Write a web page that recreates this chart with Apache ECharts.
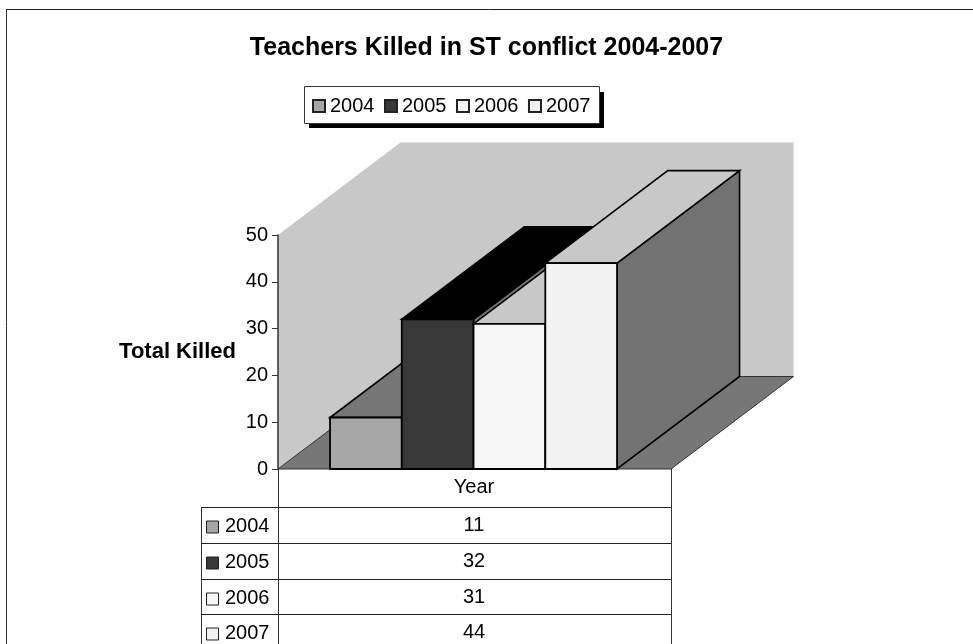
<!DOCTYPE html>
<html>
<head>
<meta charset="utf-8">
<title>Teachers Killed in ST conflict 2004-2007</title>
<script src="https://cdn.jsdelivr.net/npm/echarts@6/dist/echarts.min.js"></script>
<style>
  html, body { margin: 0; padding: 0; background: #fff; }
  #chart { width: 973px; height: 644px; }
</style>
</head>
<body>
<div id="chart"></div>
<script>
const years = ["2004", "2005", "2006", "2007"];
const killed = [11, 32, 31, 44];
const frontColors = ["#a6a6a6", "#383838", "#f7f7f7", "#f2f2f2"];
const topColors = ["#777777", "#000000", "#c8c8c8", "#c8c8c8"];
const sideColor = "#727272";
const wallColor = "#c8c8c8";
const floorColor = "#777777";

// oblique depth of the 3D box, in pixels
const depthX = 122.5;
const depthY = -92.5;
const font = "'Liberation Sans', Arial, sans-serif";

const chart = echarts.init(document.getElementById("chart"));

const shift = (p) => [p[0] + depthX, p[1] + depthY];
const poly = (points, fill, stroke, lineWidth) => ({
  type: "polygon",
  shape: { points },
  style: { fill, stroke: stroke || "none", lineWidth: lineWidth || 0 },
});

const renderWalls = (params, api) => {
  const a = api.coord([-0.725, 0]);
  const b = api.coord([4.752, 0]);
  const c = api.coord([-0.725, 50]);
  const d = api.coord([4.752, 50]);
  return {
    type: "group",
    children: [
      poly([a, c, shift(c), shift(d), shift(b), shift(a)], wallColor),
      poly([a, b, shift(b), shift(a)], floorColor, "#333", 1),
    ],
  };
};

const renderBox = (params, api) => {
  const i = api.value(0);
  const v = api.value(1);
  const bl = api.coord([i, 0]);
  const br = api.coord([i + 1, 0]);
  const tl = api.coord([i, v]);
  const tr = api.coord([i + 1, v]);
  return {
    type: "group",
    children: [
      poly([br, tr, shift(tr), shift(br)], sideColor, "#000", 1.6),
      poly([tl, tr, shift(tr), shift(tl)], topColors[i], "#000", 1.6),
      poly([bl, tl, tr, br], frontColors[i], "#000", 1.8),
    ],
  };
};

const barSeries = years.map((y, i) => ({
  name: y,
  type: "custom",
  renderItem: renderBox,
  encode: { x: 0, y: 1 },
  itemStyle: { color: frontColors[i], borderColor: "#222", borderWidth: 1 },
  data: [[i, killed[i]]],
}));

// table below the plot, plain graphic elements so the text stays real text
const hLine = (x1, x2, y) => ({
  type: "line",
  shape: { x1, y1: y, x2, y2: y },
  style: { stroke: "#222", lineWidth: 1 },
});
const vLine = (x, y1, y2, stroke) => ({
  type: "line",
  shape: { x1: x, y1, x2: x, y2 },
  style: { stroke: stroke || "#333", lineWidth: 1 },
});
const cellText = (text, x, y, align) => ({
  type: "text",
  x,
  y,
  style: {
    text,
    font: "20px " + font,
    fill: "#000",
    align: align || "center",
    verticalAlign: "middle",
  },
});

const rowTops = [507.5, 543.5, 579.5, 614.5];
const tableItems = [
  vLine(278.5, 469, 644),
  vLine(671.5, 469, 644),
  vLine(201.5, 507, 644),
  cellText("Year", 474, 487),
];
years.forEach((y, i) => {
  const mid = rowTops[i] + 18;
  tableItems.push(hLine(201, 671, rowTops[i]));
  tableItems.push({
    type: "rect",
    shape: { x: 206.5, y: mid - 4.5, width: 12, height: 12 },
    style: { fill: frontColors[i], stroke: "#222", lineWidth: 1 },
  });
  tableItems.push(cellText(y, 225, mid + 1, "left"));
  tableItems.push(cellText(String(killed[i]), 474, mid));
});

const option = {
  animation: false,
  backgroundColor: "#fff",
  title: {
    text: "Teachers Killed in ST conflict 2004-2007",
    left: "center",
    top: 31,
    textStyle: { fontFamily: font, fontSize: 25, fontWeight: "bold", color: "#000" },
  },
  legend: {
    data: years,
    left: 304,
    top: 86,
    padding: [10, 9, 10, 8],
    itemGap: 9.5,
    itemWidth: 12,
    itemHeight: 12,
    icon: "rect",
    textStyle: { fontFamily: font, fontSize: 20, color: "#000" },
  },
  grid: { left: 278, top: 235, width: 393, height: 234 },
  xAxis: { type: "value", min: -0.725, max: 4.752, show: false },
  yAxis: {
    type: "value",
    min: 0,
    max: 50,
    interval: 10,
    z: 5,
    name: "Total Killed",
    nameLocation: "middle",
    nameRotate: 0,
    nameGap: 42,
    nameTextStyle: { fontFamily: font, fontSize: 22, fontWeight: "bold", color: "#000" },
    axisLine: { show: true, onZero: false, lineStyle: { color: "#333", width: 1.5 } },
    axisTick: { show: true, length: 6, lineStyle: { color: "#333", width: 1 } },
    axisLabel: { fontFamily: font, fontSize: 20, color: "#000", margin: 10 },
    splitLine: { show: false },
  },
  series: [
    {
      name: "walls",
      type: "custom",
      renderItem: renderWalls,
      encode: { x: 0, y: 1 },
      silent: true,
      z: 1,
      data: [[0, 0]],
    },
    ...barSeries,
  ],
  graphic: [
    {
      type: "group",
      silent: true,
      children: [
        hLine(6, 973, 9.5),
        vLine(6.5, 9, 644),
        // legend frame and its hard shadow
        {
          type: "rect",
          shape: { x: 309, y: 92, width: 295, height: 36 },
          style: { fill: "#000" },
        },
        {
          type: "rect",
          shape: { x: 304.5, y: 86.5, width: 295, height: 37 },
          style: { fill: "#fff", stroke: "#333", lineWidth: 1 },
        },
        ...tableItems,
      ],
    },
  ],
};

chart.setOption(option);
</script>
</body>
</html>
